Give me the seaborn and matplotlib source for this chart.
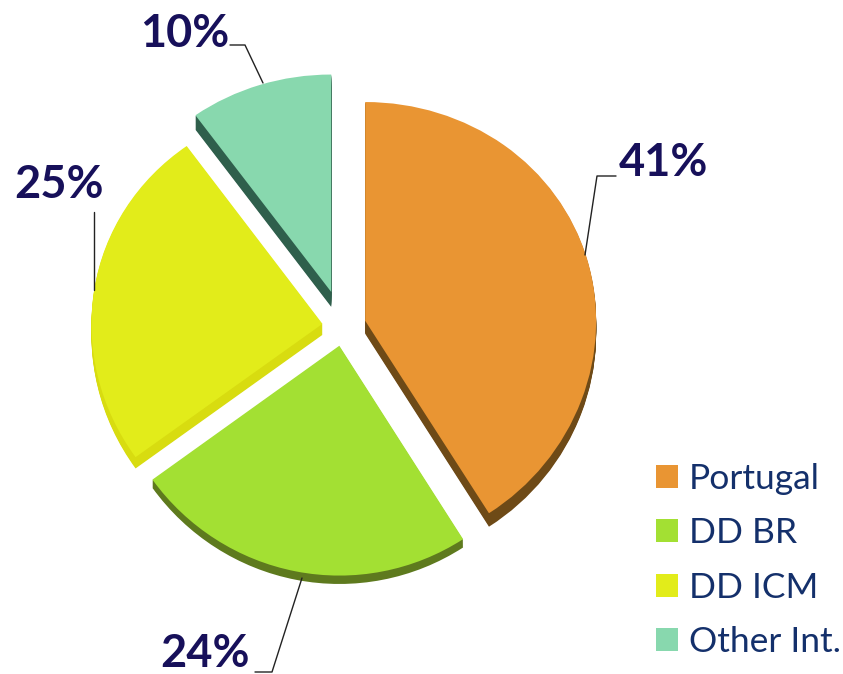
import matplotlib
matplotlib.use("Agg")
import matplotlib.pyplot as plt
import numpy as np
import seaborn as sns

categories = ["Portugal", "DD BR", "DD ICM", "Other Int."]
values = [41, 24, 25, 10]
labels_pct = ["41%", "24%", "25%", "10%"]
top_colors = ["#E99533", "#A3E033", "#E2EC1A", "#88D8AE"]
side_colors = ["#6E4A17", "#5E7A1E", "#D8DC10", "#2F5F4C"]
explode = [0.10, 0.085, 0.09, 0.165]

sns.set_theme(style="white")
plt.rcParams['font.family'] = ['Lato', 'DejaVu Sans']

W, H = 843, 674
RX, RY = 231.0, 224.0
CX, CY = 343.0, 325.0
BEND = 5.0
DROP = 2.0

fig = plt.figure(figsize=(W / 100, H / 100), dpi=100)
ax = fig.add_axes([0, 0, 1, 1])


def forward(v):
    v = np.asarray(v, dtype=float)
    return RY * v - BEND * v ** 2 - DROP


def inverse(u):
    u = np.asarray(u, dtype=float)
    return (RY - np.sqrt(np.maximum(RY ** 2 - 4 * BEND * (u + DROP), 0))) / (2 * BEND)


def F(x, y):
    return x / W, 1 - y / H


depths = {0: 13, 1: 8, 2: 11, 3: 15}
for k in range(15, 0, -1):
    cols = [c if k <= depths[i] else (0, 0, 0, 0) for i, c in enumerate(side_colors)]
    ax.pie(values, explode=explode, colors=cols, startangle=90, counterclock=False,
           center=(0, -k / RY), radius=1, wedgeprops=dict(linewidth=0))

wedges, _ = ax.pie(values, explode=explode, colors=top_colors, startangle=90,
                   counterclock=False, center=(0, 0), radius=1,
                   wedgeprops=dict(linewidth=0))

ax.set_aspect("auto")
ax.set_yscale("function", functions=(forward, inverse))
ax.set_xlim(-CX / RX, (W - CX) / RX)
ax.set_ylim(float(inverse(CY - H)), float(inverse(CY)))
ax.axis("off")

leaders = [
    [(585, 255), (597, 176), (616, 176)],
    [(302, 578), (272, 672), (255, 672)],
    [(94, 290), (94, 212)],
    [(263, 83), (245, 45), (230, 45)],
]
label_pos = [(663, 163), (205, 654), (59, 185), (185, 34)]
for line, txt, pos in zip(leaders, labels_pct, label_pos):
    pts = [F(*p) for p in line]
    fig.add_artist(plt.Line2D([p[0] for p in pts], [p[1] for p in pts], color="#222222",
                              lw=1.0, transform=fig.transFigure, zorder=20))
    fig.text(*F(*pos), txt, ha="center", va="center", fontsize=32.5, fontweight="bold",
             color="#17105A", zorder=21)

leg = fig.legend(wedges, categories, loc="lower right", bbox_to_anchor=(841 / W, 16 / H),
                 frameon=False, fontsize=25.5, labelcolor="#14306B", handlelength=0.62,
                 handleheight=0.62, handletextpad=0.30, labelspacing=0.63,
                 borderpad=0, borderaxespad=0)

fig.savefig("out.png", dpi=100)
